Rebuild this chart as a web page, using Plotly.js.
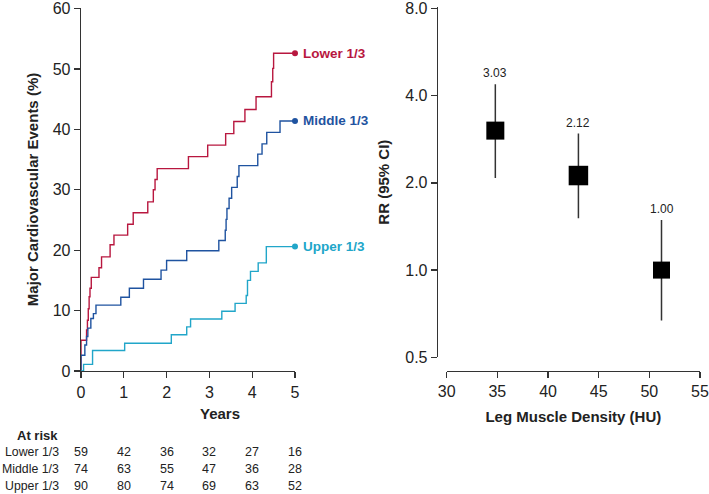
<!DOCTYPE html>
<html>
<head>
<meta charset="utf-8">
<script src="https://cdn.plot.ly/plotly-3.0.1.min.js"></script>
<style>html,body{margin:0;padding:0;background:#fff;}#chart{width:709px;height:494px;}</style>
</head>
<body>
<div id="chart"></div>
<script>
// ---- Kaplan-Meier style cumulative event curves (years, %) ----
const lowerT = [0, 0.0, 0.13, 0.15, 0.17, 0.19, 0.21, 0.24, 0.42, 0.48, 0.68, 0.77, 1.09, 1.22, 1.56, 1.69, 1.73, 1.78, 2.51, 2.96, 3.38, 3.57, 3.83, 4.09, 4.45, 4.48, 4.50, 5.0];
const lowerV = [0, 5.1, 6.8, 8.4, 10.3, 12.3, 13.7, 15.5, 17.1, 18.9, 20.9, 22.5, 24.3, 26.2, 28.0, 30.0, 31.7, 33.5, 35.5, 37.4, 39.3, 41.3, 43.3, 45.4, 47.9, 50.1, 52.6, 52.6];
const middleT = [0, 0.0, 0.09, 0.13, 0.16, 0.23, 0.29, 0.35, 0.93, 1.13, 1.46, 1.87, 2.0, 2.47, 3.22, 3.37, 3.39, 3.41, 3.46, 3.52, 3.65, 3.69, 4.13, 4.23, 4.34, 4.65, 5.0];
const middleV = [0, 2.6, 4.3, 5.7, 7.1, 8.7, 9.5, 10.9, 12.2, 13.7, 15.2, 16.7, 18.3, 19.9, 21.6, 23.3, 25.1, 26.9, 28.6, 30.4, 32.2, 34.0, 35.9, 37.6, 39.5, 41.4, 41.4];
const upperT = [0, 0.06, 0.27, 1.02, 2.11, 2.47, 2.56, 3.29, 3.60, 3.86, 3.89, 3.96, 4.14, 4.33, 5.0];
const upperV = [0, 1.1, 3.4, 4.6, 6.0, 7.3, 8.6, 9.9, 11.2, 12.5, 15.0, 16.5, 17.9, 20.6, 20.6];
const groupNames = ['Lower 1/3', 'Middle 1/3', 'Upper 1/3'];
const groupColors = ['#b8173f', '#1f53a0', '#21a6c9'];
const eventTicks = [0, 10, 20, 30, 40, 50, 60];

// ---- At-risk table ----
const riskYears = [0, 1, 2, 3, 4, 5];
const riskLower = [59, 42, 36, 32, 27, 16];
const riskMiddle = [74, 63, 55, 47, 36, 28];
const riskUpper = [90, 80, 74, 69, 63, 52];

// ---- Relative risk by leg muscle density ----
const densityHU = [34.8, 43.0, 51.2];
const rrValue = [3.03, 2.12, 1.00];
const rrLow = [2.08, 1.51, 0.67];
const rrHigh = [4.38, 2.96, 1.49];
const rrTickVals = [0.5, 1, 2, 4, 8];
const rrTickText = ['0.5', '1.0', '2.0', '4.0', '8.0'];
const huTicks = [30, 35, 40, 45, 50, 55];

const FONT = 'Liberation Sans, Arial, Helvetica, sans-serif';
const W = 709, H = 494;
const px = v => v / W;
const py = v => (H - v) / H;

const curves = [[lowerT, lowerV], [middleT, middleV], [upperT, upperV]];
const traces = [];
curves.forEach((c, i) => {
  traces.push({
    x: c[0], y: c[1], type: 'scatter', mode: 'lines',
    line: {shape: 'hv', color: groupColors[i], width: 1.4},
    xaxis: 'x', yaxis: 'y', hoverinfo: 'skip', showlegend: false, cliponaxis: false
  });
  const n = c[0].length - 1;
  traces.push({
    x: [c[0][n]], y: [c[1][n]], type: 'scatter', mode: 'markers',
    marker: {color: groupColors[i], size: 6, opacity: 1},
    xaxis: 'x', yaxis: 'y', showlegend: false, cliponaxis: false
  });
});

// CI bars + squares
traces.push({
  x: densityHU, y: rrValue, type: 'scatter', mode: 'markers',
  marker: {symbol: 'square', size: [18, 19.5, 17], color: '#000', opacity: 1, line: {width: 0}},
  error_y: {type: 'data', symmetric: false,
    array: rrHigh.map((h, i) => h - rrValue[i]),
    arrayminus: rrLow.map((l, i) => rrValue[i] - l),
    width: 0, thickness: 1.5, color: '#333'},
  xaxis: 'x2', yaxis: 'y2', showlegend: false, cliponaxis: false
});

const axisCommon = {
  showline: true, linecolor: '#333', linewidth: 1.3, ticks: 'outside', ticklen: 6,
  tickwidth: 1.3, tickcolor: '#333', showgrid: false, zeroline: false,
  ticklabeloverflow: 'allow',
  tickfont: {family: FONT, size: 16, color: '#222'}
};

const annotations = [];
// RR value labels above CI
densityHU.forEach((x, i) => {
  annotations.push({xref: 'x2', yref: 'y2', x: x, y: Math.log10(rrHigh[i]), text: rrValue[i].toFixed(2),
    showarrow: false, xanchor: 'center', yanchor: 'middle', yshift: 11,
    font: {family: FONT, size: 12, color: '#222'}});
});
// curve labels
curves.forEach((c, i) => {
  const n = c[0].length - 1;
  annotations.push({xref: 'x', yref: 'y', x: c[0][n], y: c[1][n], text: '<b>' + groupNames[i] + '</b>',
    showarrow: false, xanchor: 'left', yanchor: 'middle', xshift: 6,
    font: {family: FONT, size: 13.5, color: groupColors[i]}});
});
// Years title
annotations.push({xref: 'paper', yref: 'paper', x: px(220), y: py(413), text: '<b>Years</b>', showarrow: false,
  xanchor: 'center', yanchor: 'middle', font: {family: FONT, size: 15, color: '#222'}});
// At risk table
annotations.push({xref: 'paper', yref: 'paper', x: px(60), y: py(435), text: '<b>At risk</b>', showarrow: false,
  xanchor: 'right', yanchor: 'middle', font: {family: FONT, size: 13, color: '#222'}});
const riskRows = [riskLower, riskMiddle, riskUpper];
const rowY = [452, 469, 486];
riskRows.forEach((row, r) => {
  annotations.push({xref: 'paper', yref: 'paper', x: px(61), y: py(rowY[r]), text: groupNames[r], showarrow: false,
    xanchor: 'right', yanchor: 'middle', font: {family: FONT, size: 12.3, color: '#222'}});
  row.forEach((v, k) => {
    annotations.push({xref: 'x', yref: 'paper', x: riskYears[k], y: py(rowY[r]), text: String(v), showarrow: false,
      xanchor: 'center', yanchor: 'middle', font: {family: FONT, size: 12.5, color: '#222'}});
  });
});

const layout = {
  width: W, height: H, margin: {l: 0, r: 0, t: 0, b: 0},
  paper_bgcolor: '#fff', plot_bgcolor: 'rgba(0,0,0,0)', showlegend: false,
  font: {family: FONT, color: '#222'},
  xaxis: Object.assign({}, axisCommon, {domain: [px(81), px(295)], range: [0, 5], tickvals: riskYears, anchor: 'y'}),
  yaxis: Object.assign({}, axisCommon, {domain: [py(371), py(8.0)], range: [0, 60.1], tickvals: eventTicks, anchor: 'x',
    title: {text: '<b>Major Cardiovascular Events (%)</b>', font: {family: FONT, size: 15, color: '#222'}, standoff: 10}}),
  xaxis2: Object.assign({}, axisCommon, {domain: [px(446.7), px(700)], range: [30, 55], tickvals: huTicks,
    anchor: 'free', position: py(370.7),
    title: {text: '<b>Leg Muscle Density (HU)</b>', font: {family: FONT, size: 15, color: '#222'}, standoff: 12}}),
  yaxis2: Object.assign({}, axisCommon, {domain: [py(357.3), py(7.0)], type: 'log',
    range: [Math.log10(0.5), Math.log10(8) + 0.005], tickvals: rrTickVals, ticktext: rrTickText,
    anchor: 'free', position: px(436.7),
    title: {text: '<b>RR (95% CI)</b>', font: {family: FONT, size: 15, color: '#222'}, standoff: 10}}),
  annotations: annotations
};

Plotly.newPlot('chart', traces, layout, {displayModeBar: false, staticPlot: true});
</script>
</body>
</html>
